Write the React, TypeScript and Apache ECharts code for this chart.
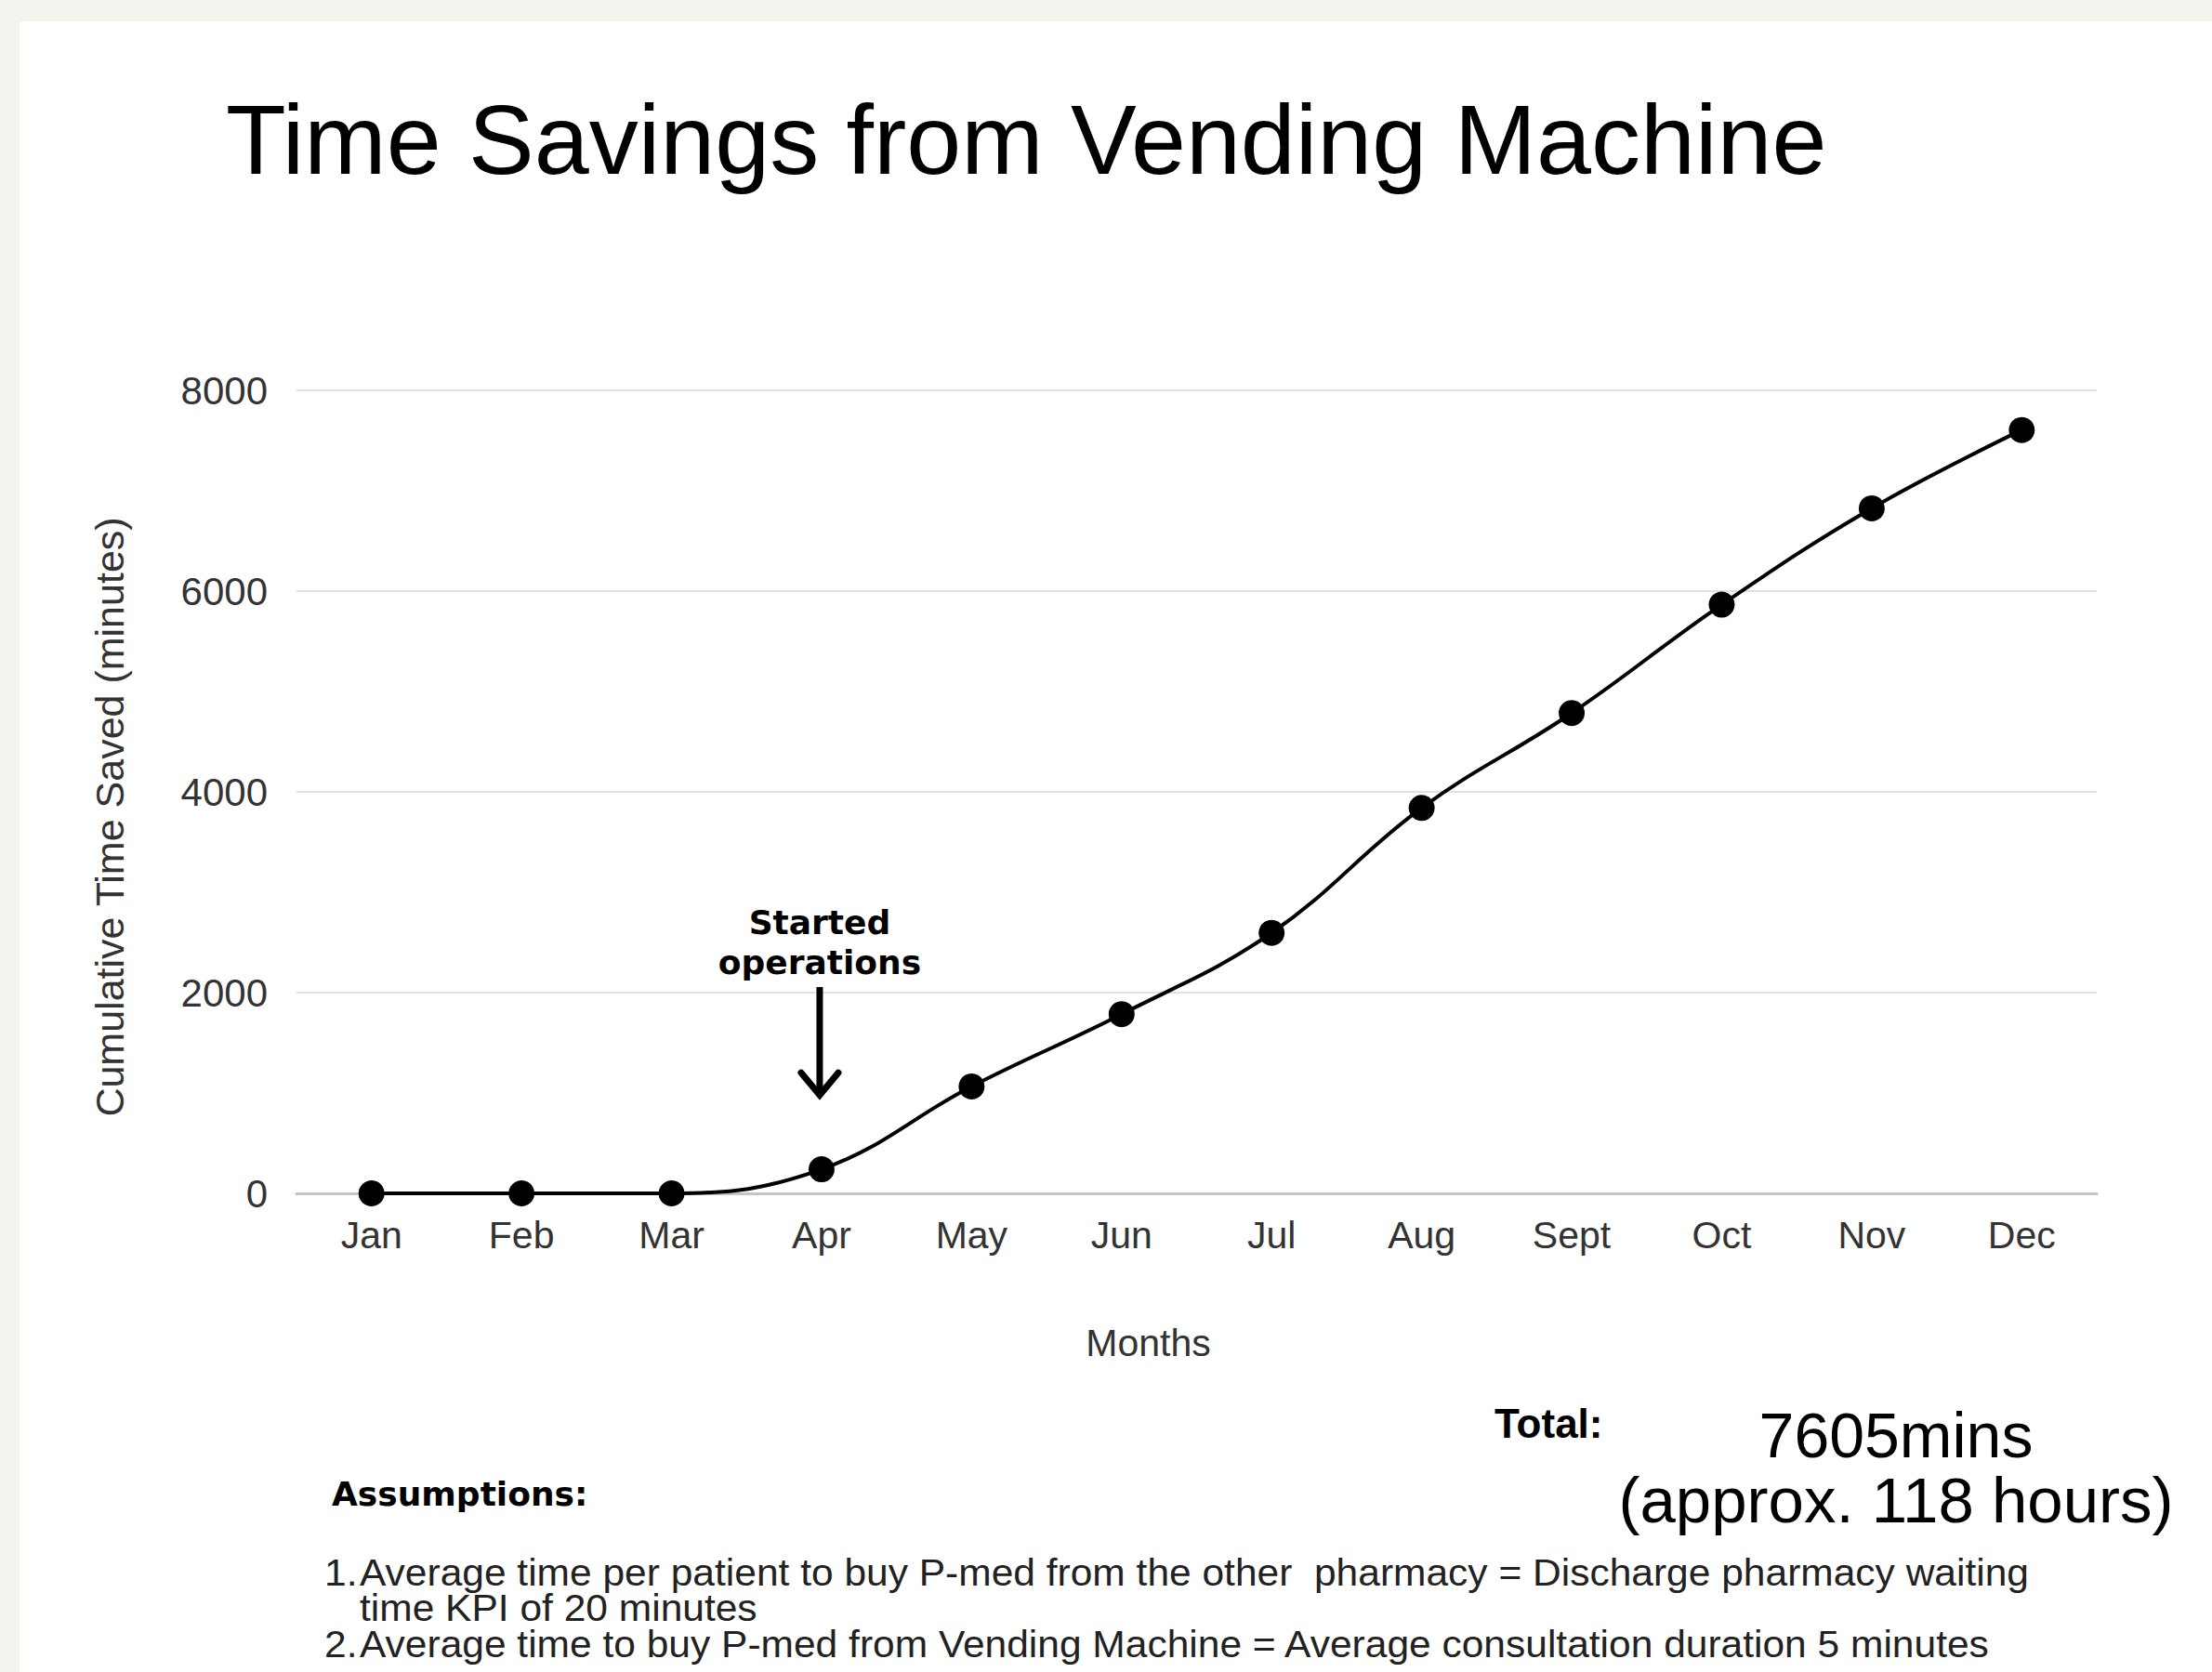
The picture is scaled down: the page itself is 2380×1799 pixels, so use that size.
import React, { useEffect, useRef } from "react";
import * as echarts from "echarts";

const months = ["Jan", "Feb", "Mar", "Apr", "May", "Jun", "Jul", "Aug", "Sept", "Oct", "Nov", "Dec"];
const cumulativeMinutes = [0, 0, 0, 240, 1065, 1785, 2595, 3840, 4785, 5865, 6825, 7605];
const yMin = 0;
const yMax = 8000;
const yInterval = 2000;

const titleText = "Time Savings from Vending Machine";
const xAxisName = "Months";
const yAxisName = "Cumulative Time Saved (minutes)";
const annotationMonth = "Apr";
const annotationLines = ["Started", "operations"];
const arrowTopValue = 2055;
const arrowTipValue = 980;
const totalLabel = "Total:";
const totalLines = ["7605mins", "(approx. 118 hours)"];
const assumptionsTitle = "Assumptions:";
const assumptionNumbers = ["1.", "", "2."];
const assumptionLines = [
  "Average time per patient to buy P-med from the other  pharmacy = Discharge pharmacy waiting",
  "time KPI of 20 minutes",
  "Average time to buy P-med from Vending Machine = Average consultation duration 5 minutes",
];

const FONT = "'Liberation Sans', Arial, Helvetica, sans-serif";
const WIDE = "'DejaVu Sans', Verdana, sans-serif";

function txt(
  text: string,
  x: number,
  baseline: number,
  fontSize: number,
  opts: { family?: string; weight?: string; fill?: string; align?: string; scaleX?: number } = {}
) {
  return {
    type: "text",
    x,
    y: baseline - 0.3465 * fontSize,
    scaleX: opts.scaleX || 1,
    silent: true,
    style: {
      text,
      fontSize,
      fontFamily: opts.family || FONT,
      fontWeight: opts.weight || "normal",
      fill: opts.fill || "#000",
      align: opts.align || "left",
      verticalAlign: "middle",
    },
  };
}

export default function App() {
  const ref = useRef<HTMLDivElement>(null);

  useEffect(() => {
    const chart = echarts.init(ref.current!, null, { renderer: "svg" });
    chart.setOption({
      animation: false,
      backgroundColor: "#ffffff",
      grid: { left: 298, top: 397, right: 124, bottom: 515, containLabel: false },
      xAxis: {
        type: "category",
        data: months,
        boundaryGap: true,
        name: xAxisName,
        nameLocation: "middle",
        nameGap: 140,
        nameTextStyle: {
          fontFamily: FONT,
          fontSize: 41,
          color: "#333",
          padding: [0, 104, 0, 0],
        },
        axisLine: { show: true, lineStyle: { color: "#c4c4c4", width: 3 } },
        axisTick: { show: false },
        axisLabel: { fontFamily: FONT, fontSize: 41, color: "#333", margin: 24 },
        splitLine: { show: false },
      },
      yAxis: {
        type: "value",
        min: yMin,
        max: yMax,
        interval: yInterval,
        name: yAxisName,
        nameLocation: "middle",
        nameGap: 180,
        nameRotate: 90,
        nameTextStyle: {
          fontFamily: FONT,
          fontSize: 43,
          color: "#333",
          padding: [0, 54, 0, 0],
        },
        axisLine: { show: false },
        axisTick: { show: false },
        axisLabel: {
          fontFamily: FONT,
          fontSize: 42,
          color: "#333",
          margin: 31,
          formatter: (v: number) => String(v),
        },
        splitLine: { show: true, lineStyle: { color: "#e2e2e2", width: 2 } },
      },
      series: [
        {
          type: "line",
          data: cumulativeMinutes,
          smooth: 0.4,
          symbol: "circle",
          symbolSize: 28,
          lineStyle: { color: "#000", width: 4 },
          itemStyle: { color: "#000" },
          z: 5,
        },
      ],
    });

    const top = chart.convertToPixel({ seriesIndex: 0 }, [annotationMonth, arrowTopValue]) as number[];
    const tip = chart.convertToPixel({ seriesIndex: 0 }, [annotationMonth, arrowTipValue]) as number[];
    const ax = top[0] - 2;

    const graphics: any[] = [];
    graphics.push(txt(titleText, 222, 164, 106));
    graphics.push(txt(annotationLines[0], ax, top[1] - 57, 36, { family: WIDE, weight: "bold", align: "center" }));
    graphics.push(txt(annotationLines[1], ax, top[1] - 14, 36, { family: WIDE, weight: "bold", align: "center" }));
    graphics.push({
      type: "line",
      silent: true,
      shape: { x1: ax, y1: top[1], x2: ax, y2: tip[1] - 3 },
      style: { stroke: "#000", lineWidth: 7 },
    });
    graphics.push({
      type: "polyline",
      silent: true,
      shape: { points: [[ax - 20, tip[1] - 24], [ax, tip[1]], [ax + 20, tip[1] - 24]] },
      style: { stroke: "#000", lineWidth: 7, fill: "none", lineJoin: "miter", lineCap: "round" },
    });

    graphics.push(txt(totalLabel, 1587, 1524, 44, { weight: "bold" }));
    graphics.push(txt(totalLines[0], 2019, 1545, 68, { align: "center" }));
    graphics.push(txt(totalLines[1], 2019, 1615, 69, { align: "center" }));

    graphics.push(txt(assumptionsTitle, 336, 1597, 36, { family: WIDE, weight: "bold" }));
    const baselines = [1683, 1721.5, 1760];
    assumptionLines.forEach((line, i) => {
      if (assumptionNumbers[i]) {
        graphics.push(txt(assumptionNumbers[i], 328, baselines[i], 40, { fill: "#222", scaleX: 1.0625 }));
      }
      graphics.push(txt(line, 366, baselines[i], 40, { fill: "#222", scaleX: 1.0625 }));
    });

    chart.setOption({ graphic: graphics });

    return () => chart.dispose();
  }, []);

  return (
    <div
      style={{
        position: "absolute",
        left: 0,
        top: 0,
        width: 2380,
        height: 1799,
        background: "#f4f3ee",
        overflow: "hidden",
      }}
    >
      <div
        ref={ref}
        style={{
          position: "absolute",
          left: 21,
          top: 23,
          width: 2359,
          height: 1776,
          background: "#ffffff",
        }}
      />
    </div>
  );
}
